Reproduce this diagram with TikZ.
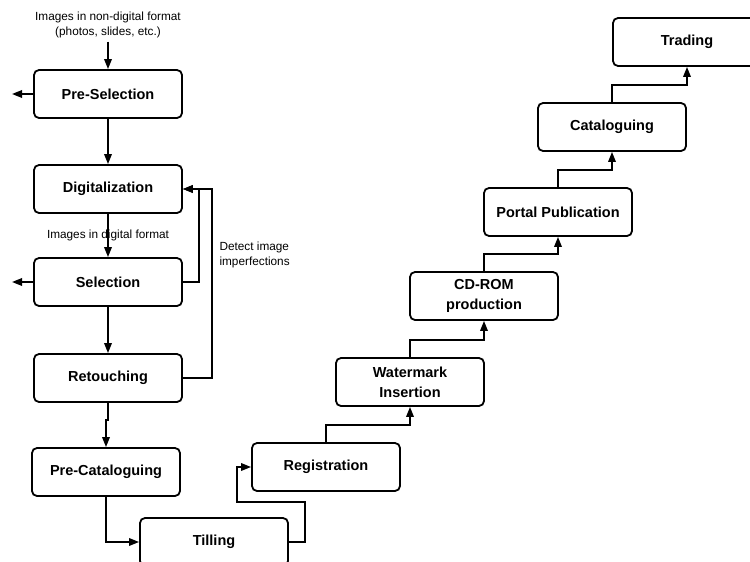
\documentclass[tikz,border=0pt]{standalone}
\usepackage{fontspec}
\setmainfont{Liberation Sans}
\usepackage{tikz}
\usetikzlibrary{arrows.meta,positioning}

\begin{document}
\begin{tikzpicture}[x=1pt, y=-1pt, on grid,
    stage/.style={draw, line width=1.8pt, rounded corners=5pt, minimum width=148pt, minimum height=48pt,
                  align=center, font=\bfseries\fontsize{14.5}{20}\selectfont},
    flow/.style={-{Triangle[length=10pt,width=7.5pt]}, line width=1.7pt},
    note/.style={font=\fontsize{11.8}{15}\selectfont}]
    \useasboundingbox (0,0) rectangle (750,562);
           \node[note, align=center] (input) at (108,25) {Images in non-digital format\\(photos, slides, etc.)};
           \node[stage] (presel) at (108,94) {Pre-Selection};
           \node[stage] (digit) [below=95pt of presel] {Digitalization};
           \node[stage] (sel) [below=93pt of digit] {Selection};
           \node[stage] (retouch) [below=96pt of sel] {Retouching};
           \node[stage] (precat) [below=94pt of retouch, xshift=-2pt] {Pre-Cataloguing};
           \node[stage] (tilling) [below right=70pt and 108pt of precat] {Tilling};
           \node[stage] (reg) [above right=75pt and 112pt of tilling] {Registration};
           \node[stage] (water) [above right=85pt and 84pt of reg] {Watermark\\Insertion};
           \node[stage] (cdrom) [above right=86pt and 74pt of water] {CD-ROM\\production};
           \node[stage] (portal) [above right=84pt and 74pt of cdrom] {Portal Publication};
           \node[stage] (catal) [above right=85pt and 54pt of portal] {Cataloguing};
           \node[stage] (trading) [above right=85pt and 75pt of catal] {Trading};
           \coordinate (presel-out) at (12,94);
           \coordinate (sel-out) at (12,282);
           \node[note, anchor=west, align=left] (detect) at (216,255) {Detect image\\imperfections};

           \draw[flow] (input) -- (presel);
           \draw[flow] (presel) -- (presel-out);
           \draw[flow] (presel) -- (digit);
           \draw[flow] (digit) -- node[note] {Images in digital format} (sel);
           \draw[flow] (sel) -- (sel-out);
           \draw[flow] (sel) -- (retouch);
           \draw[flow] (sel.east) -- ++(16,0) |- (digit.east);
           \draw[flow] (retouch.east) -- ++(29,0) |- (digit.east);
           \draw[flow] (retouch.south) -- ++(0,17) -| (precat.north);
           \draw[flow] (precat.south) |- (tilling.west);
           \draw[flow] (tilling.east) -- ++(16,0) |- ++(-68,-40) |- (reg.west);
           \foreach \from/\to in {reg/water, water/cdrom, cdrom/portal, portal/catal, catal/trading}
             \draw[flow] (\from.north) -- ++(0,-17) -| (\to.south);
        \end{tikzpicture}
\end{document}
